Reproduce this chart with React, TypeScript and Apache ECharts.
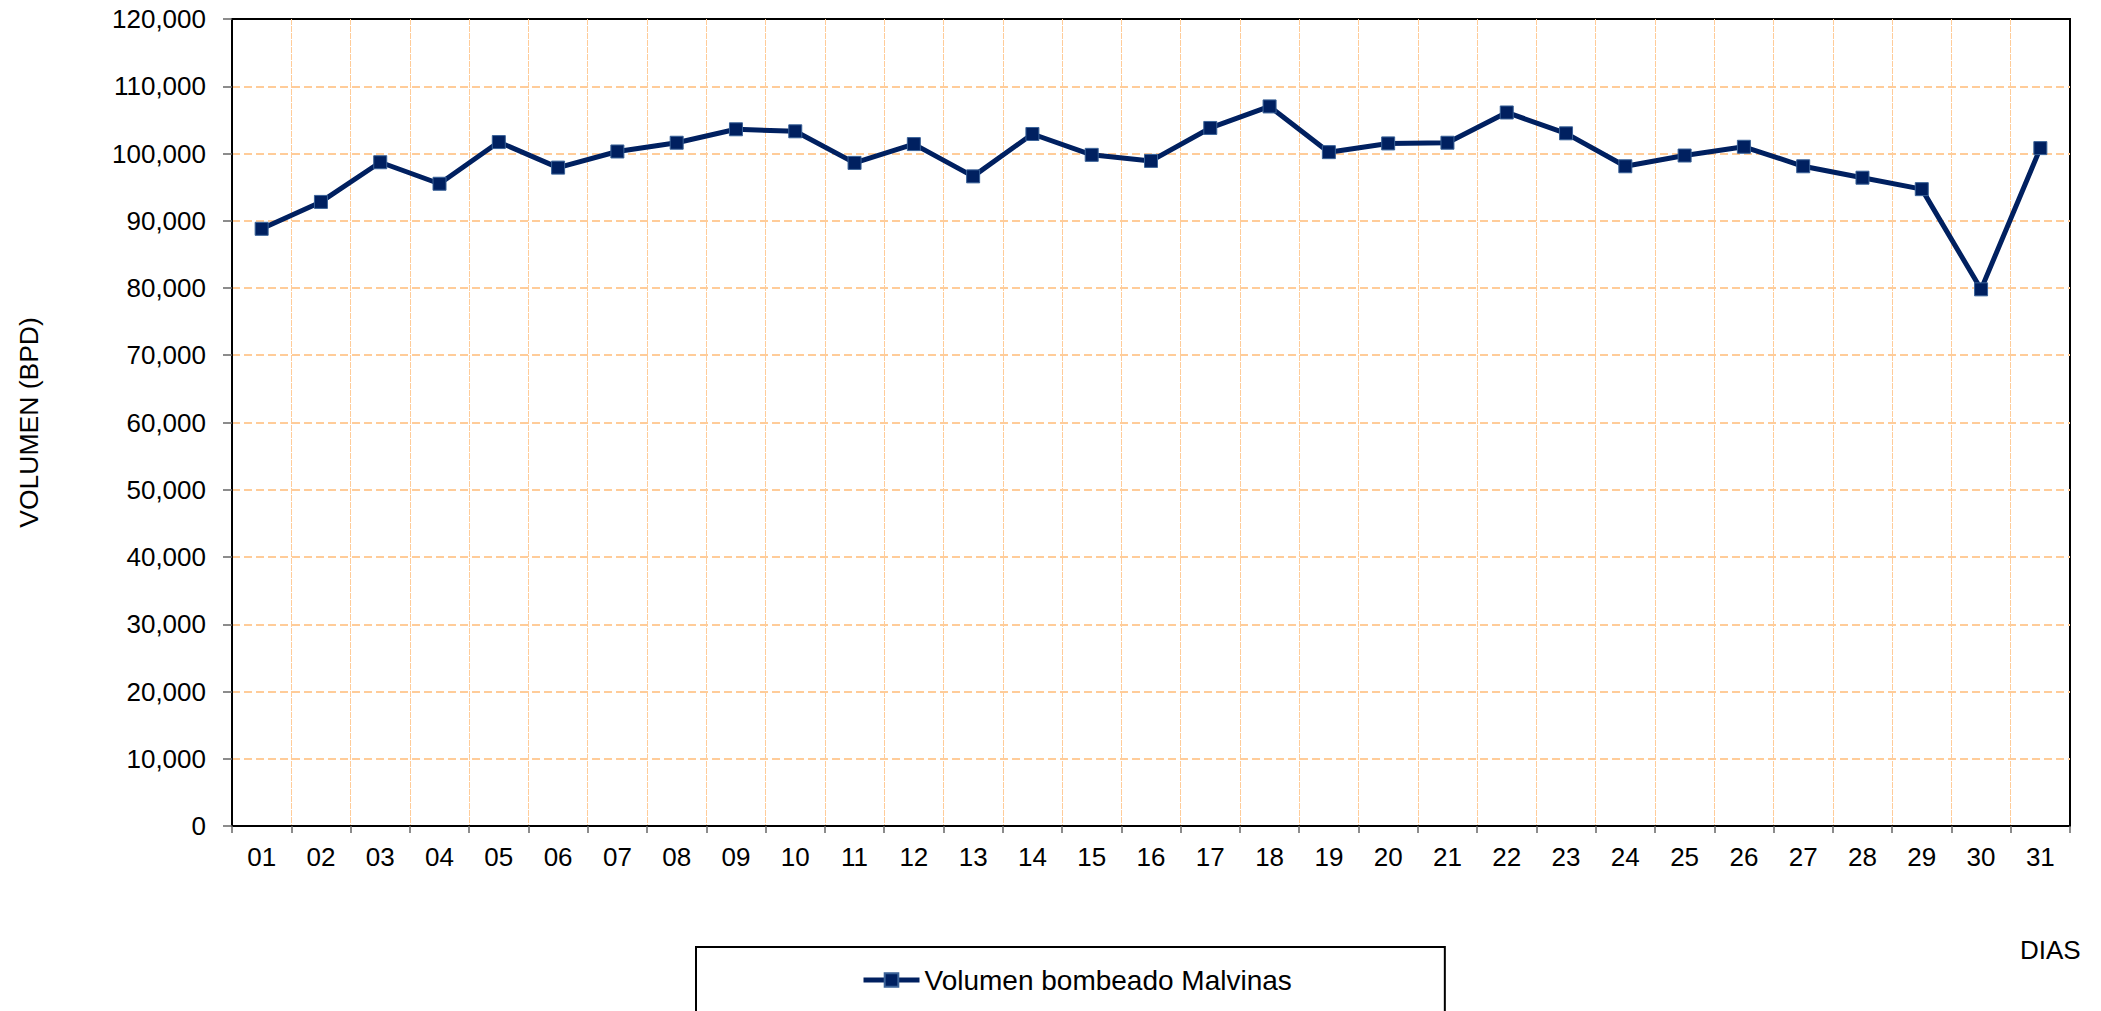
import React, { useEffect, useRef } from "react";
import * as echarts from "echarts";

const days = ["01","02","03","04","05","06","07","08","09","10","11","12","13","14","15","16","17","18","19","20","21","22","23","24","25","26","27","28","29","30","31"];
const volumen = [88800, 92800, 98700, 95500, 101700, 97900, 100300, 101600, 103600, 103300, 98600, 101400, 96600, 102900, 99800, 98900, 103800, 107000, 100200, 101500, 101600, 106100, 103000, 98100, 99700, 101000, 98100, 96400, 94700, 79800, 100800];
const seriesName = "Volumen bombeado Malvinas";
const yTitle = "VOLUMEN (BPD)";
const xTitle = "DIAS";
const yMin = 0;
const yMax = 120000;
const yStep = 10000;

const FONT = "'Liberation Sans', Arial, sans-serif";

export default function App() {
  const ref = useRef<HTMLDivElement>(null);
  useEffect(() => {
    if (!ref.current) return;
    const chart = echarts.init(ref.current, undefined, { renderer: "svg" });
    chart.setOption({
      animation: false,
      backgroundColor: "#ffffff",
      textStyle: { fontFamily: FONT },
      grid: {
        left: 232,
        top: 19,
        right: 31,
        bottom: 185,
        show: true,
        borderColor: "#000000",
        borderWidth: 2,
        containLabel: false,
        outerBoundsMode: "none",
      },
      legend: {
        show: true,
        left: 696,
        top: 947,
        orient: "horizontal",
        padding: [19, 153, 60, 165],
        borderColor: "#000000",
        borderWidth: 2,
        backgroundColor: "#ffffff",
        itemWidth: 56,
        itemHeight: 17,
        lineStyle: { width: 5 },
        textStyle: { fontSize: 28, color: "#000000", fontFamily: FONT },
        data: [seriesName],
      },
      xAxis: {
        type: "category",
        data: days,
        boundaryGap: true,
        axisLine: { show: true, lineStyle: { color: "#000000", width: 2 } },
        axisTick: { show: true, alignWithLabel: false, length: 7, lineStyle: { color: "#666666", width: 1.5 } },
        axisLabel: { fontSize: 26, color: "#000000", margin: 18, interval: 0, fontFamily: FONT },
        splitLine: {
          show: true,
          showMinLine: false,
          showMaxLine: false,
          interval: 0,
          lineStyle: { color: "#FFCC99", width: 1, type: [6, 1] },
        },
      },
      yAxis: {
        type: "value",
        min: yMin,
        max: yMax,
        interval: yStep,
        name: yTitle,
        nameLocation: "middle",
        nameRotate: 90,
        nameGap: 190,
        nameTextStyle: { fontSize: 26.5, color: "#000000", fontFamily: FONT },
        axisLine: { show: true, lineStyle: { color: "#000000", width: 2 } },
        axisTick: { show: true, length: 9, lineStyle: { color: "#666666", width: 1.5 } },
        axisLabel: {
          fontSize: 26,
          color: "#000000",
          margin: 26,
          fontFamily: FONT,
          formatter: (v: number) => v.toLocaleString("en-US"),
        },
        splitLine: {
          show: true,
          showMinLine: false,
          showMaxLine: false,
          lineStyle: { color: "#FFCC99", width: 2, type: [8, 4] },
        },
      },
      series: [
        {
          name: seriesName,
          type: "line",
          data: volumen,
          symbol: "rect",
          symbolSize: 13,
          showAllSymbol: true,
          lineStyle: { color: "#002060", width: 5 },
          itemStyle: { color: "#002060", borderColor: "#3A6298", borderWidth: 1 },
          z: 3,
        },
      ],
      graphic: [
        {
          type: "text",
          left: 2020,
          top: 937,
          style: { text: xTitle, fontSize: 26, fill: "#000000", fontFamily: FONT },
        },
      ],
    });
    return () => chart.dispose();
  }, []);
  return (
    <div
      ref={ref}
      style={{ position: "absolute", left: 0, top: 0, width: "2101px", height: "1011px" }}
    />
  );
}
